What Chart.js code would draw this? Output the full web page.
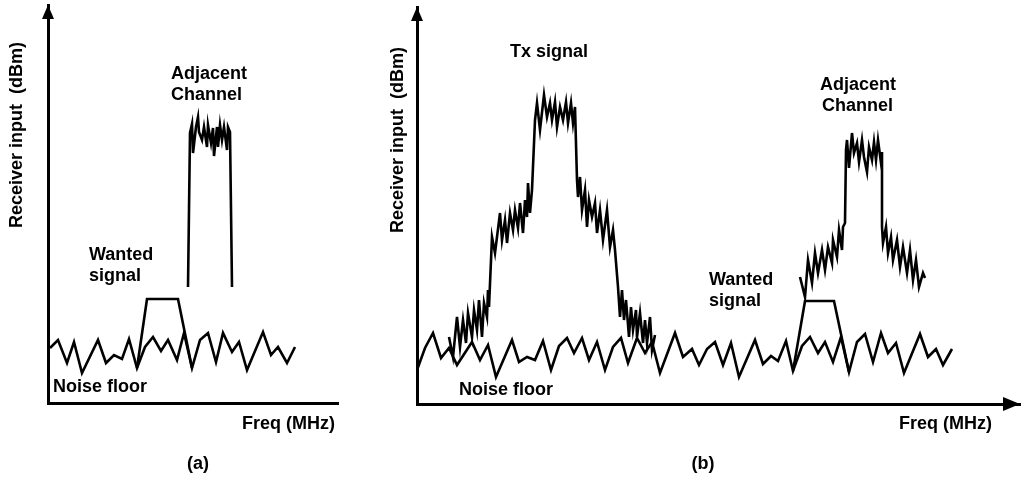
<!DOCTYPE html>
<html>
<head>
<meta charset="utf-8">
<script src="https://cdn.jsdelivr.net/npm/chart.js@4/dist/chart.umd.min.js"></script>
<style>
  html, body { margin: 0; padding: 0; background: #fff; }
  #panelA { position: absolute; left: 0; top: 0; }
  #panelB { position: absolute; left: 370px; top: 0; }
</style>
</head>
<body>
<canvas id="panelA" width="360" height="485"></canvas>
<canvas id="panelB" width="656" height="485"></canvas>
<script>
// ---------- panel (a): receiver only ----------
// x = frequency offset from the y axis, y = level above the x axis
const aNoiseX = [2, 10, 19, 26, 34, 50, 58, 66, 74, 81, 89, 97, 105, 113, 120, 129, 136, 144, 152, 160, 168, 175, 184, 191, 199, 215, 223, 230, 239, 247];
const aNoiseY = [55, 63, 40, 61, 30, 63, 40, 48, 44, 64, 35, 56, 66, 52, 63, 43, 70, 35, 63, 70, 41, 70, 51, 61, 33, 71, 48, 56, 40, 56];

const aWantedX = [89, 99, 130, 144];
const aWantedY = [35, 104, 104, 35];

const aAdjX = [140, 142, 144, 145, 148, 150, 151, 154, 156, 159, 160, 163, 165, 166, 169, 170, 172, 174, 176, 179, 180, 182, 184];
const aAdjY = [116, 270, 279, 250, 276, 286, 271, 263, 276, 256, 278, 260, 275, 247, 276, 256, 278, 263, 276, 253, 276, 271, 116];

// ---------- panel (b): with own transmitter ----------
const bNoiseX = [0, 8, 16, 24, 32, 40, 55, 63, 71, 79, 95, 102, 110, 118, 126, 134, 142, 150, 157, 165, 172, 180, 188, 196, 204, 211, 220, 228, 235, 243, 258, 266, 275, 282, 290, 298, 306, 314, 322, 338, 346, 354, 361, 369, 376, 385, 393, 401, 408, 416, 424, 432, 440, 448, 456, 464, 471, 479, 487, 503, 511, 519, 526, 535];
const bNoiseY = [34, 56, 71, 46, 56, 39, 62, 44, 59, 27, 64, 42, 47, 44, 63, 34, 58, 66, 51, 66, 44, 62, 34, 57, 66, 41, 66, 51, 62, 31, 71, 47, 55, 39, 55, 62, 39, 61, 27, 64, 40, 48, 43, 63, 33, 58, 67, 51, 62, 42, 67, 32, 62, 70, 42, 71, 51, 61, 31, 70, 47, 55, 39, 55];

const bTxX = [32, 36, 40, 43, 46, 49, 51, 55, 57, 60, 62, 65, 67, 70, 71, 72, 75, 78, 83, 85, 88, 90, 93, 96, 98, 101, 103, 106, 108, 110, 111, 113, 115, 118, 120, 123, 127, 130, 133, 135, 138, 140, 143, 146, 149, 151, 154, 156, 158, 160, 161, 163, 165, 168, 170, 172, 175, 178, 180, 183, 186, 190, 193, 196, 198, 201, 203, 205, 207, 209, 212, 214, 216, 219, 220, 223, 226, 228, 230, 233, 235, 238];
const bTxY = [67, 47, 87, 57, 84, 61, 91, 67, 94, 74, 104, 67, 101, 87, 114, 97, 167, 151, 191, 164, 184, 161, 191, 174, 194, 176, 201, 171, 204, 187, 221, 191, 214, 284, 301, 274, 309, 287, 301, 284, 302, 277, 297, 284, 302, 281, 301, 281, 297, 224, 207, 227, 194, 214, 177, 204, 187, 201, 171, 194, 164, 194, 157, 174, 154, 117, 87, 114, 84, 104, 67, 97, 74, 94, 67, 91, 61, 84, 61, 87, 54, 69];

const bWantedX = [376, 388, 417, 432];
const bWantedY = [33, 103, 103, 32];

const bAdjX = [383, 388, 391, 395, 398, 401, 405, 408, 411, 415, 416, 420, 422, 425, 426, 428, 429, 430, 432, 435, 437, 440, 442, 445, 447, 450, 452, 455, 457, 459, 461, 464, 465, 465, 466, 469, 471, 474, 476, 480, 483, 486, 490, 493, 496, 499, 502, 506, 508];
const bAdjY = [127, 107, 144, 121, 151, 131, 154, 134, 157, 141, 164, 147, 174, 154, 177, 181, 254, 264, 236, 271, 251, 261, 242, 264, 247, 232, 257, 244, 262, 244, 264, 241, 252, 177, 161, 177, 151, 167, 144, 164, 137, 157, 131, 154, 124, 144, 117, 131, 126];

const FONT = 'bold 18px "Liberation Sans", Arial, sans-serif';

function pts(xs, ys) {
    return xs.map((x, i) => ({ x: x, y: ys[i] }));
}

function trace(xs, ys) {
    return {
        data: pts(xs, ys),
        borderColor: "#000",
        borderWidth: 2.6,
        pointRadius: 0,
        tension: 0,
        fill: false,
        borderJoinStyle: "miter"
    };
}

// arrows on the axes plus all the written labels
const sketchPlugin = {
    id: "sketch",
    afterDraw(chart, args, opts) {
        const ctx = chart.ctx;
        const a = chart.chartArea;
        ctx.save();
        ctx.fillStyle = "#000";

        // y axis arrow
        ctx.beginPath();
        ctx.moveTo(a.left, a.top);
        ctx.lineTo(a.left - 6, a.top + 14);
        ctx.lineTo(a.left + 6, a.top + 14);
        ctx.closePath();
        ctx.fill();

        if (opts.xArrow) {
            ctx.beginPath();
            ctx.moveTo(a.right, a.bottom);
            ctx.lineTo(a.right - 17, a.bottom - 7);
            ctx.lineTo(a.right - 17, a.bottom + 7);
            ctx.closePath();
            ctx.fill();
        }

        ctx.font = FONT;
        (opts.labels || []).forEach(l => {
            ctx.save();
            ctx.translate(l.x, l.y);
            if (l.rotate) {
                ctx.rotate(-Math.PI / 2);
                ctx.textAlign = "center";
                ctx.textBaseline = "middle";
            } else {
                ctx.textAlign = l.align || "left";
                ctx.textBaseline = "alphabetic";
            }
            ctx.fillText(l.text, 0, 0);
            ctx.restore();
        });
        ctx.restore();
    }
};

function makePanel(id, padding, xMax, yMax, datasets, labels, xArrow) {
    const axis = (max, horizontal) => ({
        type: "linear",
        min: 0,
        max: max,
        grid: { display: false, drawTicks: false },
        ticks: { display: false },
        border: { display: true, color: "#000", width: 3 },
        afterFit: s => { if (horizontal) s.height = 0; else s.width = 0; }
    });

    new Chart(document.getElementById(id).getContext("2d"), {
        type: "line",
        data: { datasets: datasets },
        options: {
            responsive: false,
            animation: false,
            layout: { padding: padding },
            plugins: {
                legend: { display: false },
                tooltip: { enabled: false },
                sketch: { labels: labels, xArrow: xArrow }
            },
            scales: { x: axis(xMax, true), y: axis(yMax, false) }
        },
        plugins: [sketchPlugin]
    });
}

makePanel("panelA", { left: 48, top: 5, right: 22, bottom: 82 }, 290, 398,
    [trace(aNoiseX, aNoiseY), trace(aWantedX, aWantedY), trace(aAdjX, aAdjY)],
    [
        { text: "Receiver input  (dBm)", x: 17, y: 135, rotate: true },
        { text: "Adjacent", x: 171, y: 79 },
        { text: "Channel", x: 171, y: 100 },
        { text: "Wanted", x: 89, y: 260 },
        { text: "signal", x: 89, y: 281 },
        { text: "Noise floor", x: 53, y: 392 },
        { text: "Freq (MHz)", x: 335, y: 429, align: "right" },
        { text: "(a)", x: 198, y: 469, align: "center" }
    ], false);

makePanel("panelB", { left: 47, top: 7, right: 6, bottom: 81 }, 603, 397,
    [trace(bNoiseX, bNoiseY), trace(bTxX, bTxY), trace(bWantedX, bWantedY), trace(bAdjX, bAdjY)],
    [
        { text: "Receiver input  (dBm)", x: 28, y: 140, rotate: true },
        { text: "Tx signal", x: 140, y: 57 },
        { text: "Adjacent", x: 450, y: 90 },
        { text: "Channel", x: 452, y: 111 },
        { text: "Wanted", x: 339, y: 285 },
        { text: "signal", x: 339, y: 306 },
        { text: "Noise floor", x: 89, y: 395 },
        { text: "Freq (MHz)", x: 622, y: 429, align: "right" },
        { text: "(b)", x: 333, y: 469, align: "center" }
    ], true);
</script>
</body>
</html>
